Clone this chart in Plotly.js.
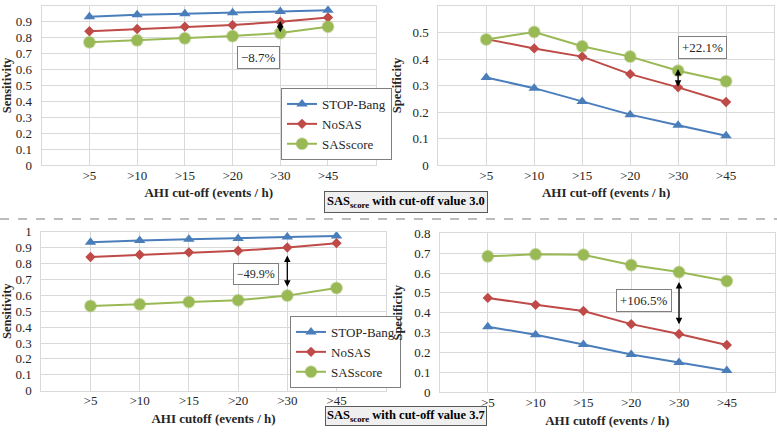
<!DOCTYPE html>
<html>
<head>
<meta charset="utf-8">
<script src="https://cdn.plot.ly/plotly-3.0.1.min.js"></script>
<style>html,body{margin:0;padding:0;background:#fff;}#chart{width:777px;height:436px;}</style>
</head>
<body>
<div id="chart"></div>
<script>
// ---- data ----
const categories = [">5", ">10", ">15", ">20", ">30", ">45"];
const seriesNames = ["STOP-Bang", "NoSAS", "SASscore"];
const sensStopBang = [0.933, 0.945, 0.952, 0.957, 0.966, 0.973];
const sensNoSAS = [0.841, 0.855, 0.870, 0.880, 0.901, 0.928];
const sensSAS30 = [0.772, 0.784, 0.797, 0.811, 0.830, 0.870];
const sensSAS37 = [0.533, 0.543, 0.558, 0.569, 0.598, 0.646];
const specStopBang = [0.33, 0.29, 0.24, 0.19, 0.15, 0.11];
const specNoSAS = [0.475, 0.440, 0.409, 0.343, 0.293, 0.238];
const specSAS30 = [0.474, 0.502, 0.448, 0.409, 0.356, 0.316];
const specSAS37 = [0.684, 0.694, 0.692, 0.640, 0.605, 0.560];
const diffLabels = ["\u22128.7%", "+22.1%", "\u221249.9%", "+106.5%"];
const panelLabels = ["SAS<sub>score</sub> with cut-off value 3.0", "SAS<sub>score</sub> with cut-off value 3.7"];
const xTitles = ["AHI cut-off (events / h)", "AHI cutoff (events / h)"];

// ---- styles ----
const FONT = "Liberation Serif, Times New Roman, serif";
const colors = {blue: "#4A7EBB", red: "#BE4B48", green: "#98B954"};
const xIdx = categories.map((c, i) => i);

function tracesFor(xa, ya, stop, nosas, sas, legendName, show) {
  return [
    {x: xIdx, y: stop, xaxis: xa, yaxis: ya, name: seriesNames[0], type: "scatter", mode: "lines+markers",
     line: {color: colors.blue, width: 2}, marker: {symbol: "triangle-up", size: 10, color: colors.blue},
     legend: legendName, showlegend: show},
    {x: xIdx, y: nosas, xaxis: xa, yaxis: ya, name: seriesNames[1], type: "scatter", mode: "lines+markers",
     line: {color: colors.red, width: 2}, marker: {symbol: "diamond", size: 8, color: colors.red},
     legend: legendName, showlegend: show},
    {x: xIdx, y: sas, xaxis: xa, yaxis: ya, name: seriesNames[2], type: "scatter", mode: "lines+markers",
     line: {color: colors.green, width: 2}, marker: {symbol: "circle", size: 11, color: colors.green, line: {color: "rgba(152,185,84,0.45)", width: 2}},
     legend: legendName, showlegend: show}
  ];
}

const data = [].concat(
  tracesFor("x", "y", sensStopBang, sensNoSAS, sensSAS30, "legend", true),
  tracesFor("x2", "y2", specStopBang, specNoSAS, specSAS30, "legend", false),
  tracesFor("x3", "y3", sensStopBang, sensNoSAS, sensSAS37, "legend2", true),
  tracesFor("x4", "y4", specStopBang, specNoSAS, specSAS37, "legend2", false)
);

const W = 777, H = 436;
function px(x) { return x / W; }
function py(y) { return 1 - y / H; }

function xAxis(domain, anchor, title) {
  return {
    domain: domain, anchor: anchor, range: [-1, 6],
    tickvals: xIdx, ticktext: categories,
    showgrid: true, gridcolor: "#d9d9d9", gridwidth: 1,
    showline: true, linecolor: "#d9d9d9", linewidth: 1, mirror: true,
    zeroline: false, ticks: "", ticklabelstandoff: -2,
    tickfont: {family: FONT, size: 13, color: "#262626"},
    title: {text: title, font: {family: FONT, size: 13, color: "#262626", weight: "bold"}, standoff: 6},
    fixedrange: true
  };
}
function yAxis(domain, anchor, range, title) {
  return {
    domain: domain, anchor: anchor, range: range, dtick: 0.1, tick0: 0,
    showgrid: true, gridcolor: "#d9d9d9", gridwidth: 1,
    showline: true, linecolor: "#d9d9d9", linewidth: 1, mirror: true,
    zeroline: false, ticks: "", ticklabelstandoff: 6,
    tickfont: {family: FONT, size: 13, color: "#262626"},
    title: {text: title, font: {family: FONT, size: 12.5, color: "#262626", weight: "bold"}, standoff: 8},
    fixedrange: true
  };
}

const topY = [py(165), py(6)];
const legendStyle = {bgcolor: "#fff", bordercolor: "#7f7f7f", borderwidth: 1, itemwidth: 30, tracegroupgap: 0,
  font: {family: FONT, size: 13, color: "#262626"}};
const layout = {
  width: W, height: H,
  margin: {l: 0, r: 0, t: 0, b: 0},
  paper_bgcolor: "#fff", plot_bgcolor: "#fff",
  font: {family: FONT, color: "#262626"},
  xaxis: xAxis([px(41.7), px(375.7)], "y", xTitles[0]),
  yaxis: yAxis(topY, "x", [0, 1], "Sensitivity"),
  xaxis2: xAxis([px(438.3), px(774)], "y2", xTitles[0]),
  yaxis2: yAxis(topY, "x2", [0, 0.6], "Specificity"),
  xaxis3: xAxis([px(41.3), px(385.7)], "y3", xTitles[1]),
  yaxis3: yAxis([py(390.7), py(231.7)], "x3", [0, 1], "Sensitivity"),
  xaxis4: xAxis([px(440), px(774.6)], "y4", xTitles[1]),
  yaxis4: yAxis([py(392.3), py(233.3)], "x4", [0, 0.8], "Specificity"),
  legend: Object.assign({x: px(281), y: py(88), xanchor: "left", yanchor: "top"}, legendStyle),
  legend2: Object.assign({x: px(290), y: py(316), xanchor: "left", yanchor: "top"}, legendStyle),
  shapes: [
    {type: "line", xref: "paper", yref: "paper", x0: 0, x1: 1, y0: py(219), y1: py(219),
     line: {color: "#a6a6a6", width: 1.5, dash: "dash"}}
  ],
  annotations: [
    // double arrows
    {xref: "x", yref: "y", axref: "x", ayref: "y", x: 4, y: 0.905, ax: 4, ay: 0.825, text: "",
     showarrow: true, arrowside: "end+start", arrowhead: 2, startarrowhead: 2, arrowsize: 1, startarrowsize: 1, arrowwidth: 1.3, arrowcolor: "#000"},
    {xref: "x2", yref: "y2", axref: "x2", ayref: "y2", x: 4, y: 0.362, ax: 4, ay: 0.29, text: "",
     showarrow: true, arrowside: "end+start", arrowhead: 2, startarrowhead: 2, arrowsize: 1, startarrowsize: 1, arrowwidth: 1.3, arrowcolor: "#000"},
    {xref: "x3", yref: "y3", axref: "x3", ayref: "y3", x: 4, y: 0.85, ax: 4, ay: 0.645, text: "",
     showarrow: true, arrowside: "end+start", arrowhead: 2, startarrowhead: 2, arrowsize: 1, startarrowsize: 1, arrowwidth: 1.3, arrowcolor: "#000"},
    {xref: "x4", yref: "y4", axref: "x4", ayref: "y4", x: 4, y: 0.555, ax: 4, ay: 0.335, text: "",
     showarrow: true, arrowside: "end+start", arrowhead: 2, startarrowhead: 2, arrowsize: 1, startarrowsize: 1, arrowwidth: 1.3, arrowcolor: "#000"},
    // difference labels
    {xref: "x", yref: "y", x: 3.55, y: 0.673, text: diffLabels[0], showarrow: false,
     font: {family: FONT, size: 13, color: "#262626"}, bgcolor: "#fff", bordercolor: "#7f7f7f", borderwidth: 1, borderpad: 3},
    {xref: "x2", yref: "y2", x: 4.5, y: 0.443, text: diffLabels[1], showarrow: false,
     font: {family: FONT, size: 13, color: "#262626"}, bgcolor: "#fff", bordercolor: "#7f7f7f", borderwidth: 1, borderpad: 3},
    {xref: "x3", yref: "y3", x: 3.36, y: 0.737, text: diffLabels[2], showarrow: false,
     font: {family: FONT, size: 12, color: "#262626"}, bgcolor: "#fff", bordercolor: "#7f7f7f", borderwidth: 1, borderpad: 3},
    {xref: "x4", yref: "y4", x: 3.27, y: 0.462, text: diffLabels[3], showarrow: false,
     font: {family: FONT, size: 13, color: "#262626"}, bgcolor: "#fff", bordercolor: "#7f7f7f", borderwidth: 1, borderpad: 3},
    // panel labels
    {xref: "paper", yref: "paper", x: px(406.5), y: py(202), text: "<b>" + panelLabels[0] + "</b>", showarrow: false,
     font: {family: FONT, size: 12.5, color: "#000"}, bgcolor: "#efefef", bordercolor: "#595959", borderwidth: 1, borderpad: 2},
    {xref: "paper", yref: "paper", x: px(405.5), y: py(425.5), text: "<b>" + panelLabels[1] + "</b>", showarrow: false,
     font: {family: FONT, size: 12.5, color: "#000"}, bgcolor: "#efefef", bordercolor: "#595959", borderwidth: 1, borderpad: 1}
  ]
};

Plotly.newPlot("chart", data, layout, {staticPlot: true, displayModeBar: false});
</script>
</body>
</html>
